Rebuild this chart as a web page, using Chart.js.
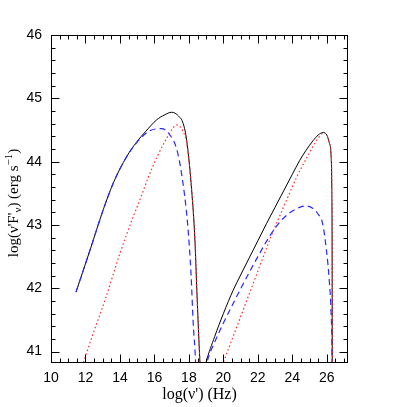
<!DOCTYPE html>
<html>
<head>
<meta charset="utf-8">
<script src="https://cdn.jsdelivr.net/npm/chart.js@4"></script>
<style>
  html, body { margin: 0; padding: 0; background: #fff; }
</style>
</head>
<body>
<canvas id="sed" width="407" height="407"></canvas>
<script>
// log(nu') values and log(nu'F'nu)
// solid black: total emission
const totalX1 = [11.45, 12.26, 13.03, 13.61, 14.39, 14.97, 15.5, 16.13, 16.6, 17.0, 17.4, 17.67, 17.87, 18.16, 18.35, 18.46, 18.58, 18.64, 18.7];
const totalY1 = [41.94, 42.60, 43.24, 43.66, 44.08, 44.31, 44.48, 44.66, 44.74, 44.78, 44.72, 44.60, 44.34, 43.55, 42.76, 41.97, 41.18, 40.82, 40.3];
const totalX2 = [18.9, 18.99, 19.5, 20.0, 20.57, 21.0, 21.5, 22.0, 22.5, 23.0, 23.5, 24.0, 24.43, 24.8, 25.2, 25.5, 25.8, 26.0, 26.14, 26.25, 26.29, 26.31, 26.32];
const totalY2 = [40.7, 40.82, 41.24, 41.60, 41.97, 42.21, 42.48, 42.75, 43.02, 43.28, 43.54, 43.80, 44.02, 44.18, 44.33, 44.42, 44.46, 44.42, 44.30, 44.08, 43.6, 42.5, 40.0];

// blue dashed component
const dashX1 = [11.45, 12.26, 13.03, 13.61, 14.39, 14.97, 15.16, 15.74, 16.42, 16.9, 17.29, 17.58, 17.92, 18.12, 18.25, 18.39, 18.45];
const dashY1 = [41.94, 42.60, 43.24, 43.66, 44.08, 44.30, 44.36, 44.49, 44.52, 44.42, 44.20, 43.80, 43.03, 42.24, 41.45, 40.82, 40.3];
const dashX2 = [18.98, 19.05, 19.5, 20.0, 20.57, 21.0, 21.5, 22.0, 22.5, 23.0, 23.5, 24.0, 24.5, 24.82, 25.2, 25.5, 25.75, 25.98, 26.15, 26.25, 26.3, 26.32];
const dashY2 = [40.7, 40.82, 41.15, 41.45, 41.76, 41.99, 42.25, 42.50, 42.74, 42.95, 43.11, 43.22, 43.285, 43.30, 43.26, 43.17, 43.03, 42.6, 42.1, 41.6, 41.0, 40.0];

// red dotted component
const dotX1 = [11.5, 11.87, 12.5, 13.13, 14.0, 14.77, 15.16, 15.7, 16.2, 16.71, 17.0, 17.29, 17.5, 17.67, 17.87, 18.16, 18.35, 18.46, 18.58, 18.64, 18.7];
const dotY1 = [40.53, 40.82, 41.33, 41.81, 42.55, 43.13, 43.40, 43.79, 44.10, 44.37, 44.50, 44.58, 44.55, 44.47, 44.30, 43.55, 42.76, 41.97, 41.18, 40.82, 40.3];
const dotX2 = [19.7, 19.99, 20.5, 21.0, 21.54, 22.0, 22.5, 22.89, 23.28, 23.5, 24.0, 24.24, 24.5, 25.0, 25.2, 25.5, 25.8, 26.0, 26.14, 26.25, 26.29, 26.31, 26.32];
const dotY2 = [40.6, 40.82, 41.19, 41.55, 41.94, 42.27, 42.63, 42.90, 43.15, 43.29, 43.60, 43.75, 43.89, 44.14, 44.24, 44.37, 44.45, 44.42, 44.30, 44.08, 43.6, 42.5, 40.0];

// axis ranges and tick spacing
const xRange = [10, 27.23];
const yRange = [40.82, 46];
const xMajor = 2, xMinor = 0.5;
const yMajor = 1, yMinor = 0.2;

const BLUE = '#2a2aff';
const RED = '#ff2a2a';

function points(xs, ys) {
  return xs.map((x, i) => ({ x: x, y: ys[i] }));
}

function line(xs, ys, color, dash, width) {
  return {
    data: points(xs, ys),
    borderColor: color,
    borderWidth: width,
    borderDash: dash,
    pointRadius: 0,
    fill: false,
    cubicInterpolationMode: 'monotone'
  };
}

/**
 * Draws the boxed frame with inward ticks on all four sides, and the axis titles
 */
const frameTicks = {
  id: 'frameTicks',
  afterDraw(chart) {
    const { ctx, chartArea: a, scales: { x, y } } = chart;
    const L = Math.round(a.left) + 0.5, R = Math.round(a.right) - 0.5;
    const T = Math.round(a.top) + 0.5, B = Math.round(a.bottom) - 0.5;
    ctx.save();
    ctx.strokeStyle = '#000';
    ctx.lineWidth = 1;
    ctx.strokeRect(L, T, R - L, B - T);

    ctx.beginPath();
    const nx = Math.round((x.max - x.min) / xMinor);
    for (let i = 0; i <= nx; i++) {
      const v = x.min + i * xMinor;
      if (v > x.max) break;
      const px = Math.round(x.getPixelForValue(v)) + 0.5;
      const len = (Math.abs(v / xMajor - Math.round(v / xMajor)) < 1e-6) ? 8 : 4;
      ctx.moveTo(px, B); ctx.lineTo(px, B - len);
      ctx.moveTo(px, T); ctx.lineTo(px, T + len);
    }
    const ny = Math.round((y.max - 41) / yMinor);
    for (let i = -1; i <= ny; i++) {
      const v = 41 + i * yMinor;
      if (v < y.min || v > y.max + 1e-6) continue;
      const py = Math.round(y.getPixelForValue(v)) + 0.5;
      const len = (Math.abs(v / yMajor - Math.round(v / yMajor)) < 1e-6) ? 8 : 4;
      ctx.moveTo(L, py); ctx.lineTo(L + len, py);
      ctx.moveTo(R, py); ctx.lineTo(R - len, py);
    }
    ctx.stroke();

    // axis titles
    ctx.fillStyle = '#000';
    ctx.textBaseline = 'alphabetic';
    const big = '15px "Liberation Serif"';
    const small = '11px "Liberation Serif"';

    ctx.font = '16px "Liberation Serif"';
    ctx.textAlign = 'center';
    ctx.fillText("log(\u03bd') (Hz)", (a.left + a.right) / 2, 399);

    const parts = [
      { t: "log(\u03bd'F'", f: big, dy: 0 },
      { t: "\u03bd", f: small, dy: 3 },
      { t: ") (erg s", f: big, dy: 0 },
      { t: "\u22121", f: small, dy: -6 },
      { t: ")", f: big, dy: 0 }
    ];
    let total = 0;
    parts.forEach(p => { ctx.font = p.f; p.w = ctx.measureText(p.t).width; total += p.w; });
    ctx.translate(18, 203);
    ctx.rotate(-Math.PI / 2);
    ctx.textAlign = 'left';
    let cx = -total / 2;
    parts.forEach(p => {
      ctx.font = p.f;
      ctx.fillText(p.t, cx, p.dy);
      cx += p.w;
    });
    ctx.restore();
  }
};

const tickFont = { family: 'Liberation Sans', size: 14 };

new Chart(document.getElementById('sed'), {
  type: 'line',
  data: {
    datasets: [
      line(dotX1, dotY1, RED, [1.5, 2.5], 1.2),
      line(dotX2, dotY2, RED, [1.5, 2.5], 1.2),
      line(dashX1, dashY1, BLUE, [6, 4], 1.2),
      line(dashX2, dashY2, BLUE, [6, 4], 1.2),
      line(totalX1, totalY1, '#000', [], 1),
      line(totalX2, totalY2, '#000', [], 1)
    ]
  },
  options: {
    responsive: false,
    animation: false,
    devicePixelRatio: 1,
    layout: { padding: { top: 35, right: 59, left: 0, bottom: 0 } },
    plugins: {
      legend: { display: false },
      tooltip: { enabled: false }
    },
    scales: {
      x: {
        type: 'linear',
        min: xRange[0],
        max: xRange[1],
        grid: { display: false, drawTicks: false },
        border: { display: false },
        ticks: { stepSize: xMajor, includeBounds: false, padding: 7, color: '#000', font: tickFont, maxRotation: 0, autoSkip: false },
        afterFit: (s) => { s.height = 44; }
      },
      y: {
        type: 'linear',
        min: yRange[0],
        max: yRange[1],
        grid: { display: false, drawTicks: false },
        border: { display: false },
        ticks: { stepSize: yMajor, includeBounds: false, padding: 9, color: '#000', font: tickFont },
        afterFit: (s) => { s.width = 51; }
      }
    }
  },
  plugins: [frameTicks]
});
</script>
</body>
</html>
